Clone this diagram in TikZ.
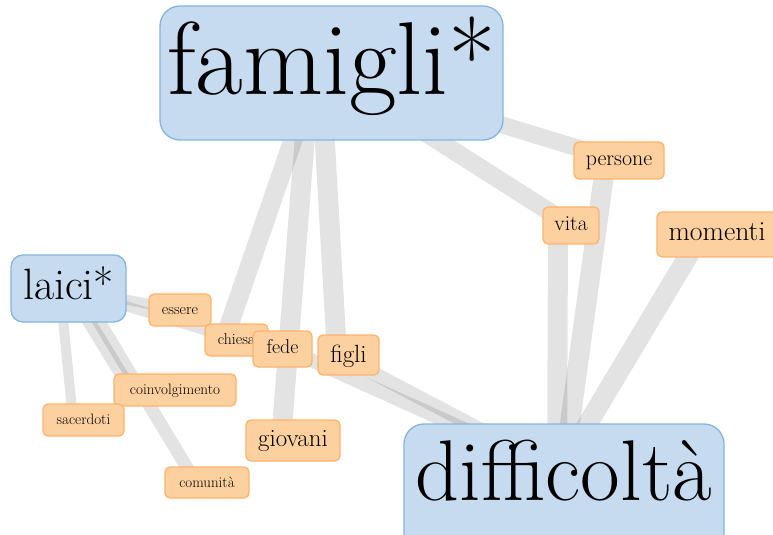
\documentclass[tikz,border=0pt]{standalone}
\usetikzlibrary{backgrounds,calc}

\definecolor{hubfill}{HTML}{C6DBEF}
\definecolor{hubline}{HTML}{84B6DD}
\definecolor{leaffill}{HTML}{FDD0A0}
\definecolor{leafline}{HTML}{FAB46E}

\tikzset{
  x=1bp, y=-1bp,
  box/.style={anchor=base, inner sep=0pt, align=center, text=black},
  hub/.style={box, draw=hubline, fill=hubfill, line width=1.3bp},
  leaf/.style={box, draw=leafline, fill=leaffill, line width=1.3bp, rounded corners=5bp},
  link/.style={draw=black, draw opacity=0.11, line cap=butt},
  fsz/.style={font=\fontsize{#1}{#1}\selectfont},
}

\begin{document}
\begin{tikzpicture}
  \useasboundingbox (0,0) rectangle (773,535);

  % main terms
  \node[hub, rounded corners=20bp, minimum width=343bp, text height=89bp, text depth=45bp, fsz=104] (famigli) at (331.5,95) {famigli*};
  \node[hub, rounded corners=12bp, minimum width=115bp, text height=45bp, text depth=22bp, fsz=44] (laici) at (68.5,300) {laici*};
  \node[hub, rounded corners=20bp, minimum width=320bp, text height=76bp, text depth=60bp, fsz=86.5] (difficolta) at (564,500) {difficoltà};

  % associated words
  \node[leaf, minimum width=90bp, text height=24bp, text depth=13bp, fsz=22] (persone) at (619,166) {persone};
  \node[leaf, minimum width=56bp, text height=24bp, text depth=13bp, fsz=21.5] (vita) at (571,231) {vita};
  \node[leaf, minimum width=120bp, text height=29bp, text depth=16bp, fsz=27.8] (momenti) at (717,241) {momenti};
  \node[leaf, minimum width=62bp, text height=20bp, text depth=12bp, fsz=15.8] (essere) at (180,314) {essere};
  \node[leaf, minimum width=63bp, text height=20bp, text depth=12bp, fsz=15.8] (chiesa) at (236.5,344) {chiesa};
  \node[leaf, minimum width=59bp, text height=22bp, text depth=14bp, fsz=20] (fede) at (282.5,353) {fede};
  \node[leaf, minimum width=61bp, text height=27bp, text depth=13bp, fsz=25] (figli) at (348.5,362) {figli};
  \node[leaf, minimum width=122bp, text height=20bp, text depth=12bp, fsz=15.2] (coinv) at (175,394) {coinvolgimento};
  \node[leaf, minimum width=81bp, text height=20bp, text depth=12bp, fsz=15.1] (sacerdoti) at (83.5,424) {sacerdoti};
  \node[leaf, minimum width=94bp, text height=26bp, text depth=15bp, fsz=25] (giovani) at (293,446) {giovani};
  \node[leaf, minimum width=84bp, text height=20bp, text depth=11bp, fsz=15] (comunita) at (207,487) {comunità};

  % co-occurrence links, behind the boxes
  \begin{pgfonlayer}{background}
    \draw[link, line width=19bp] ($(famigli.center)+(-15.5,0)$) -- ($(chiesa.center)+(-12.5,0)$);
    \draw[link, line width=20bp] ($(famigli.center)+(-21.5,0)$) -- ($(giovani.center)+(-12,0)$);
    \draw[link, line width=20bp] ($(famigli.center)+(-10.5,0)$) -- ($(figli.center)+(-11.5,0)$);
    \draw[link, line width=18bp] (famigli.center) -- (vita.center);
    \draw[link, line width=17bp] (famigli.center) -- (persone.center);
    \draw[link, line width=20bp] ($(vita.center)+(-13,0)$) -- ($(difficolta.center)+(-7,0)$);
    \draw[link, line width=20bp] ($(persone.center)+(-13,0)$) -- ($(difficolta.center)+(-3.5,0)$);
    \draw[link, line width=20bp] ($(momenti.center)+(-16,0)$) -- ($(difficolta.center)+(-17,0)$);
    \draw[link, line width=14bp] ($(figli.center)+(-9.5,0)$) -- ($(difficolta.center)+(35,0)$);
    \draw[link, line width=14bp] ($(fede.center)+(0,-2)$) -- ($(difficolta.center)+(39,0)$);
    \draw[link, line width=10bp] (laici.center) -- (essere.center);
    \draw[link, line width=10bp] (laici.center) -- (chiesa.center);
    \draw[link, line width=10bp] ($(laici.center)+(-8.5,0)$) -- ($(sacerdoti.center)+(-10.5,0)$);
    \draw[link, line width=13bp] (laici.center) -- ($(coinv.center)+(-44,0)$);
    \draw[link, line width=13bp] ($(laici.center)+(10.5,0)$) -- ($(comunita.center)+(-11,0)$);
  \end{pgfonlayer}
\end{tikzpicture}
\end{document}
